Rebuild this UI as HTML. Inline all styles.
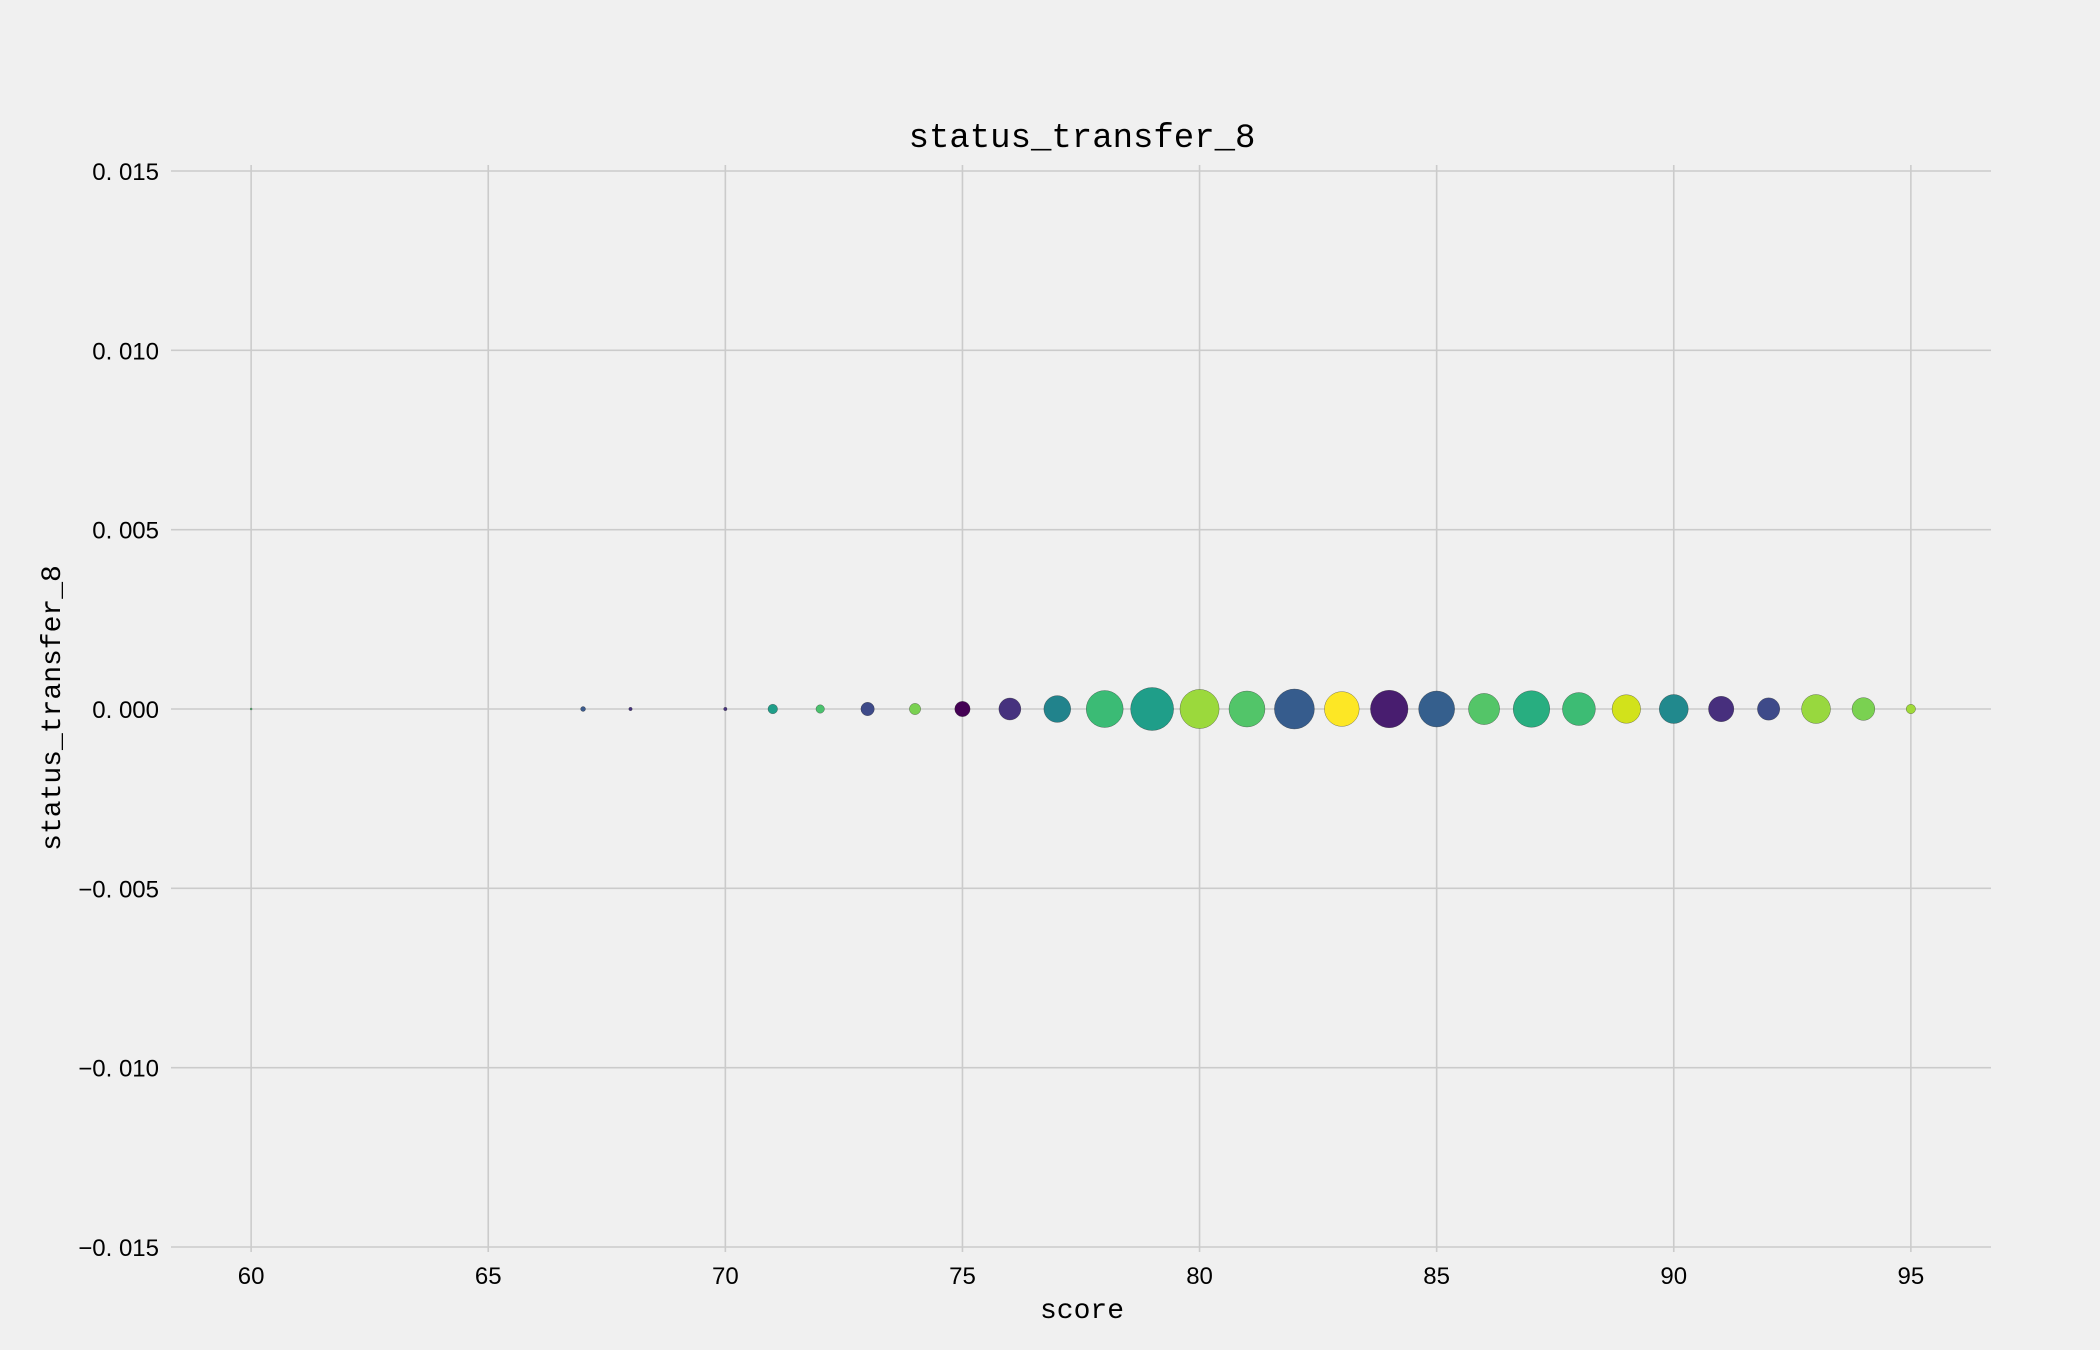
<!DOCTYPE html>
<html><head><meta charset="utf-8"><style>
html,body{margin:0;padding:0;background:#f0f0f0;}
svg{display:block;}
text{font-family:"Liberation Sans","WenQuanYi Zen Hei",sans-serif;fill:#000;}
text.mono{font-family:"Liberation Mono","WenQuanYi Zen Hei",monospace;}
</style></head><body>
<svg id="chart" width="2100" height="1350" viewBox="0 0 2100 1350" xmlns="http://www.w3.org/2000/svg">
<rect width="2100" height="1350" fill="#f0f0f0"/>
<g id="grid"></g>
<g id="ticks"></g>
<g id="marks"></g>
<text class="mono" x="1082" y="147" font-size="34" text-anchor="middle">status_transfer_8</text>
<text class="mono" x="1082" y="1318" font-size="28" text-anchor="middle">score</text>
<text class="mono" x="0" y="0" font-size="28" text-anchor="middle" transform="translate(60,708) rotate(-90)">status_transfer_8</text>
</svg>
<script>
const scores = [60,67,68,70,71,72,73,74,75,76,77,78,79,80,81,82,83,84,85,86,87,88,89,90,91,92,93,94,95];
const yValues = [0,0,0,0,0,0,0,0,0,0,0,0,0,0,0,0,0,0,0,0,0,0,0,0,0,0,0,0,0];
const sizes = [1,6,3,3,23,18,45,32,59,121,180,342,462,384,324,400,303,353,324,243,335,272,204,210,161,125,210,130,22];
const colors = ["#4ac16d","#3b5a8c","#46327e","#46327e","#1f9e89","#4ac16d","#3e4a89","#7ad151","#440154","#46327e","#21838c","#3bbb75","#1f9e89","#9bd93c","#52c569","#365c8d","#fde725","#481d6f","#355f8d","#54c568","#28ae80","#3dbc74","#d2e21b","#21898d","#472f7d","#3e4a89","#98d83e","#7ad151","#a0da39"];
const xTicks = [60,65,70,75,80,85,90,95];
const yTicks = [0.015,0.010,0.005,0.000,-0.005,-0.010,-0.015];
const yTickLabels = ["0. 015","0. 010","0. 005","0. 000","\u22120. 005","\u22120. 010","\u22120. 015"];

const NS="http://www.w3.org/2000/svg";
const L=171,R=1991,T=171,B=1247;
const xMin=58.31,xMax=96.69,yMin=-0.015,yMax=0.015;
function xs(v){return L+(v-xMin)/(xMax-xMin)*(R-L);}
function ys(v){return B-(v-yMin)/(yMax-yMin)*(B-T);}
function mk(t,a){const e=document.createElementNS(NS,t);for(const k in a)e.setAttribute(k,a[k]);return e;}
const grid=document.getElementById('grid'),ticks=document.getElementById('ticks'),marks=document.getElementById('marks');
xTicks.forEach(v=>{
  const l=mk('line',{x1:xs(v),x2:xs(v),y1:165,y2:1252,stroke:'#cbcbcb','stroke-width':1.6});
  
  
  grid.appendChild(l);
  const t=mk('text',{x:xs(v),y:1284,'font-size':24,'text-anchor':'middle'});
  t.textContent=v;
  
  
  ticks.appendChild(t);
});
yTicks.forEach((v,i)=>{
  const l=mk('line',{x1:L,x2:R,y1:ys(v),y2:ys(v),stroke:'#cbcbcb','stroke-width':1.6});
  
  
  grid.appendChild(l);
  const t=mk('text',{x:159,y:ys(v)+9,'font-size':24,'text-anchor':'end'});
  t.textContent=yTickLabels[i];
  
  
  ticks.appendChild(t);
});
scores.forEach((s,i)=>{
  const r=Math.sqrt(sizes[i]);
  const c=mk('circle',{cx:xs(s),cy:ys(yValues[i]),r:r,fill:colors[i],stroke:'#2a2a2a','stroke-width':0.5,'stroke-opacity':0.6});
  
  
  marks.appendChild(c);
});
</script>
</body></html>
